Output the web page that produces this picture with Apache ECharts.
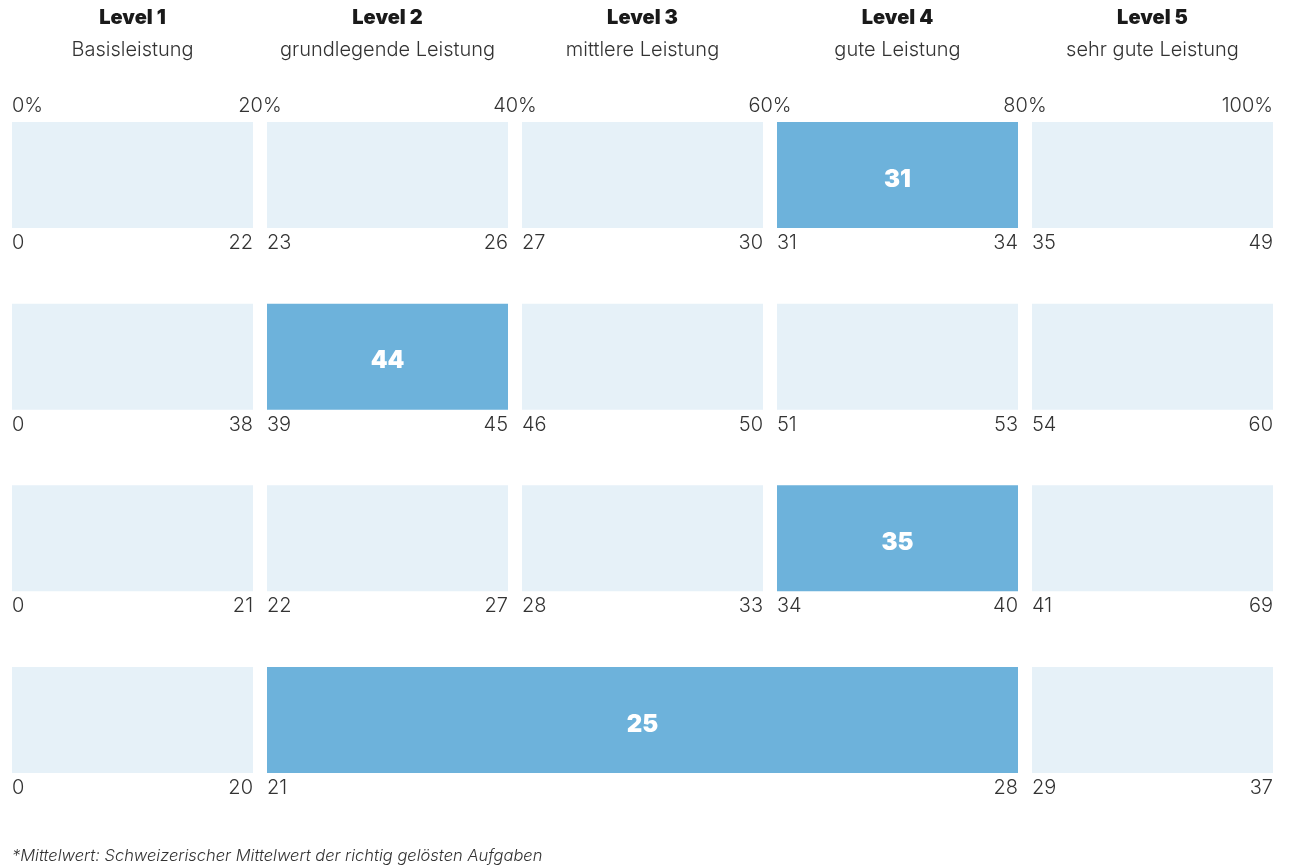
<!DOCTYPE html>
<html>
<head>
<meta charset="utf-8">
<script src="https://cdn.jsdelivr.net/npm/echarts@6/dist/echarts.min.js"></script>
<style>
html,body{margin:0;padding:0;background:#fff;}
#chart{width:1289px;height:867px;}
</style>
</head>
<body>
<div id="chart"></div>
<script>
const levelTitles = ['Level 1', 'Level 2', 'Level 3', 'Level 4', 'Level 5'];
const levelNames = ['Basisleistung', 'grundlegende Leistung', 'mittlere Leistung', 'gute Leistung', 'sehr gute Leistung'];
const pctTicks = [0, 20, 40, 60, 80, 100];
const rowSegLevels = [
  [[1,1],[2,2],[3,3],[4,4],[5,5]],
  [[1,1],[2,2],[3,3],[4,4],[5,5]],
  [[1,1],[2,2],[3,3],[4,4],[5,5]],
  [[1,1],[2,4],[5,5]]
];
const rowLows  = [[0,23,27,31,35],[0,39,46,51,54],[0,22,28,34,41],[0,21,29]];
const rowHighs = [[22,26,30,34,49],[38,45,50,53,60],[21,27,33,40,69],[20,28,37]];
const means = [31, 44, 35, 25];
const meanSeg = [3, 1, 3, 1];
const footnote = '*Mittelwert: Schweizerischer Mittelwert der richtig gelösten Aufgaben';

const FONT = 'Inter, Roboto, sans-serif';
const LIGHT = '#e6f1f8';
const DARK = '#6db2db';
const TXT = '#333333';

const cellData = [];
rowSegLevels.forEach((segs, r) => {
  segs.forEach((s, i) => {
    const hl = meanSeg[r] === i ? 1 : 0;
    cellData.push([(s[0]-1)*20, s[1]*20, r, rowLows[r][i], rowHighs[r][i], hl, hl ? means[r] : '']);
  });
});
const headerData = levelTitles.map((t, i) => [i*20 + 10, 0, t, levelNames[i]]);
const tickData = pctTicks.map(v => [v, 0]);

const chart = echarts.init(document.getElementById('chart'));
chart.setOption({
  animation: false,
  title: {
    text: footnote, left: 12, top: 848, padding: 0,
    textStyle: {fontFamily: FONT, fontSize: 16.5, fontStyle: 'italic', fontWeight: 300, color: TXT}
  },
  grid: {left: 5, right: 9, top: 84.2, bottom: 867 - 810.8},
  xAxis: {type: 'value', min: 0, max: 100, show: false},
  yAxis: {type: 'category', data: ['0','1','2','3'], inverse: true, show: false},
  series: [
    {
      type: 'custom', clip: false, data: cellData,
      encode: {x: [0,1], y: 2},
      renderItem: function (params, api) {
        const p0 = api.coord([api.value(0), api.value(2)]);
        const p1 = api.coord([api.value(1), api.value(2)]);
        const x0 = p0[0] + 7, x1 = p1[0] - 7;
        const h = 106, y0 = p0[1] - h/2;
        const hl = api.value(5);
        const children = [
          {type: 'rect', shape: {x: x0, y: y0, width: x1 - x0, height: h}, style: {fill: hl ? DARK : LIGHT}},
          {type: 'text', style: {text: String(api.value(3)), x: x0, y: y0 + h + 15, align: 'left', verticalAlign: 'middle', fill: TXT, font: '300 20px ' + FONT}},
          {type: 'text', style: {text: String(api.value(4)), x: x1, y: y0 + h + 15, align: 'right', verticalAlign: 'middle', fill: TXT, font: '300 20px ' + FONT}}
        ];
        if (hl) {
          children.push({type: 'text', style: {text: String(api.value(6)), x: (x0 + x1)/2, y: p0[1] + 4.5, align: 'center', verticalAlign: 'middle', fill: '#ffffff', font: '900 24px ' + FONT}});
        }
        return {type: 'group', children: children};
      }
    },
    {
      type: 'custom', clip: false, data: headerData,
      encode: {x: 0, y: 1},
      renderItem: function (params, api) {
        const p = api.coord([api.value(0), 0]);
        const d = headerData[params.dataIndex];
        return {type: 'group', children: [
          {type: 'text', style: {text: d[2], x: p[0], y: p[1] - 157, align: 'center', verticalAlign: 'middle', fill: '#1a1a1a', font: '900 20px ' + FONT}},
          {type: 'text', style: {text: d[3], x: p[0], y: p[1] - 125, align: 'center', verticalAlign: 'middle', fill: TXT, font: '300 20px ' + FONT}}
        ]};
      }
    },
    {
      type: 'custom', clip: false, data: tickData,
      encode: {x: 0, y: 1},
      renderItem: function (params, api) {
        const v = api.value(0);
        const p = api.coord([v, 0]);
        let x = p[0], align = 'center';
        if (v === 0) { x += 7; align = 'left'; }
        else if (v === 100) { x -= 7; align = 'right'; }
        return {type: 'text', style: {text: v + '%', x: x, y: p[1] - 69, align: align, verticalAlign: 'middle', fill: TXT, font: '300 20px ' + FONT}};
      }
    }
  ]
});
</script>
</body>
</html>
